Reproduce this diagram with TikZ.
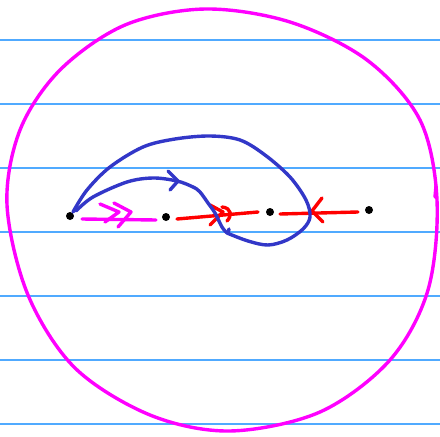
\documentclass[tikz,border=0pt]{standalone}
\begin{document}
\begin{tikzpicture}[x=1pt,y=-1pt,line cap=round,line join=round,
  rule/.style={draw=rulecol,line width=1.2pt},
  dotnode/.style={circle,fill=black,inner sep=0pt,minimum size=8pt},
  pinkpen/.style={draw=magpen,line width=3.4pt},
  redpen/.style={draw=red,line width=3.4pt},
  bluepen/.style={draw=bluepen,line width=3.4pt}]
\definecolor{rulecol}{RGB}{80,170,255}
\definecolor{magpen}{RGB}{255,0,255}
\definecolor{bluepen}{RGB}{50,55,200}
\useasboundingbox (0,0) rectangle (440,437);
\fill[white] (0,0) rectangle (440,437);
% ruled lines
\foreach \y in {40,104,168,232,296,360,424} \draw[rule] (0,\y) -- (440,\y);
% big circle
\draw[pinkpen] plot[smooth cycle,tension=0.55] coordinates {
 (205,9) (290,22) (367,60) (420,120) (437,200) (428,290) (390,360)
 (320,412) (230,431) (150,415) (75,368) (28,295) (7,205) (20,130)
 (60,70) (125,25)};
\draw[pinkpen] (436,186) -- (435,197);
% dots
\node[dotnode] (a) at (70,216) {};
\node[dotnode] (b) at (166,217) {};
\node[dotnode] (c) at (270,212) {};
\node[dotnode] (d) at (369,210) {};
% magenta connector with double chevron
\draw[pinkpen] ([xshift=12pt,yshift=-3pt]a.center) -- ([xshift=-10pt,yshift=-3pt]b.center);
\draw[pinkpen] (100,204) -- (119,212) -- (105,222);
\draw[pinkpen] (114,203) -- (131,212) -- (118,227);
% red connectors
\draw[redpen] ([xshift=11pt,yshift=-2pt]b.center) -- ([xshift=-12pt]c.center);
\draw[redpen] (210,205) -- (223,212) -- (210,225);
\draw[redpen] (222,207) .. controls (232,208) and (232,216) .. (227,221);
\draw[redpen] ([xshift=10pt,yshift=-2pt]c.center) -- ([xshift=-11pt,yshift=-2pt]d.center);
\draw[redpen] (322,198) -- (312,211) -- (323,222);
% blue curves
\draw[bluepen] ([xshift=3pt,yshift=-4pt]a.center) plot[smooth,tension=0.55] coordinates {
 (73,212) (87,190) (110,167) (143,147) (175,139) (210,136) (240,140)
 (265,155) (290,177) (306,200) (310,217) (303,229) (287,240)
 (268,245) (248,241) (227,233)};
\draw[bluepen] plot[smooth,tension=0.55] coordinates {
 (76,211) (93,197) (127,182) (153,178) (177,181) (193,187) (200,192)
 (208,203) (215,213) (222,227) (227,233)};
\draw[bluepen] (228,233) -- (229,229);
\draw[bluepen] (168,171) -- (178,181) -- (170,190);
\end{tikzpicture}
\end{document}
